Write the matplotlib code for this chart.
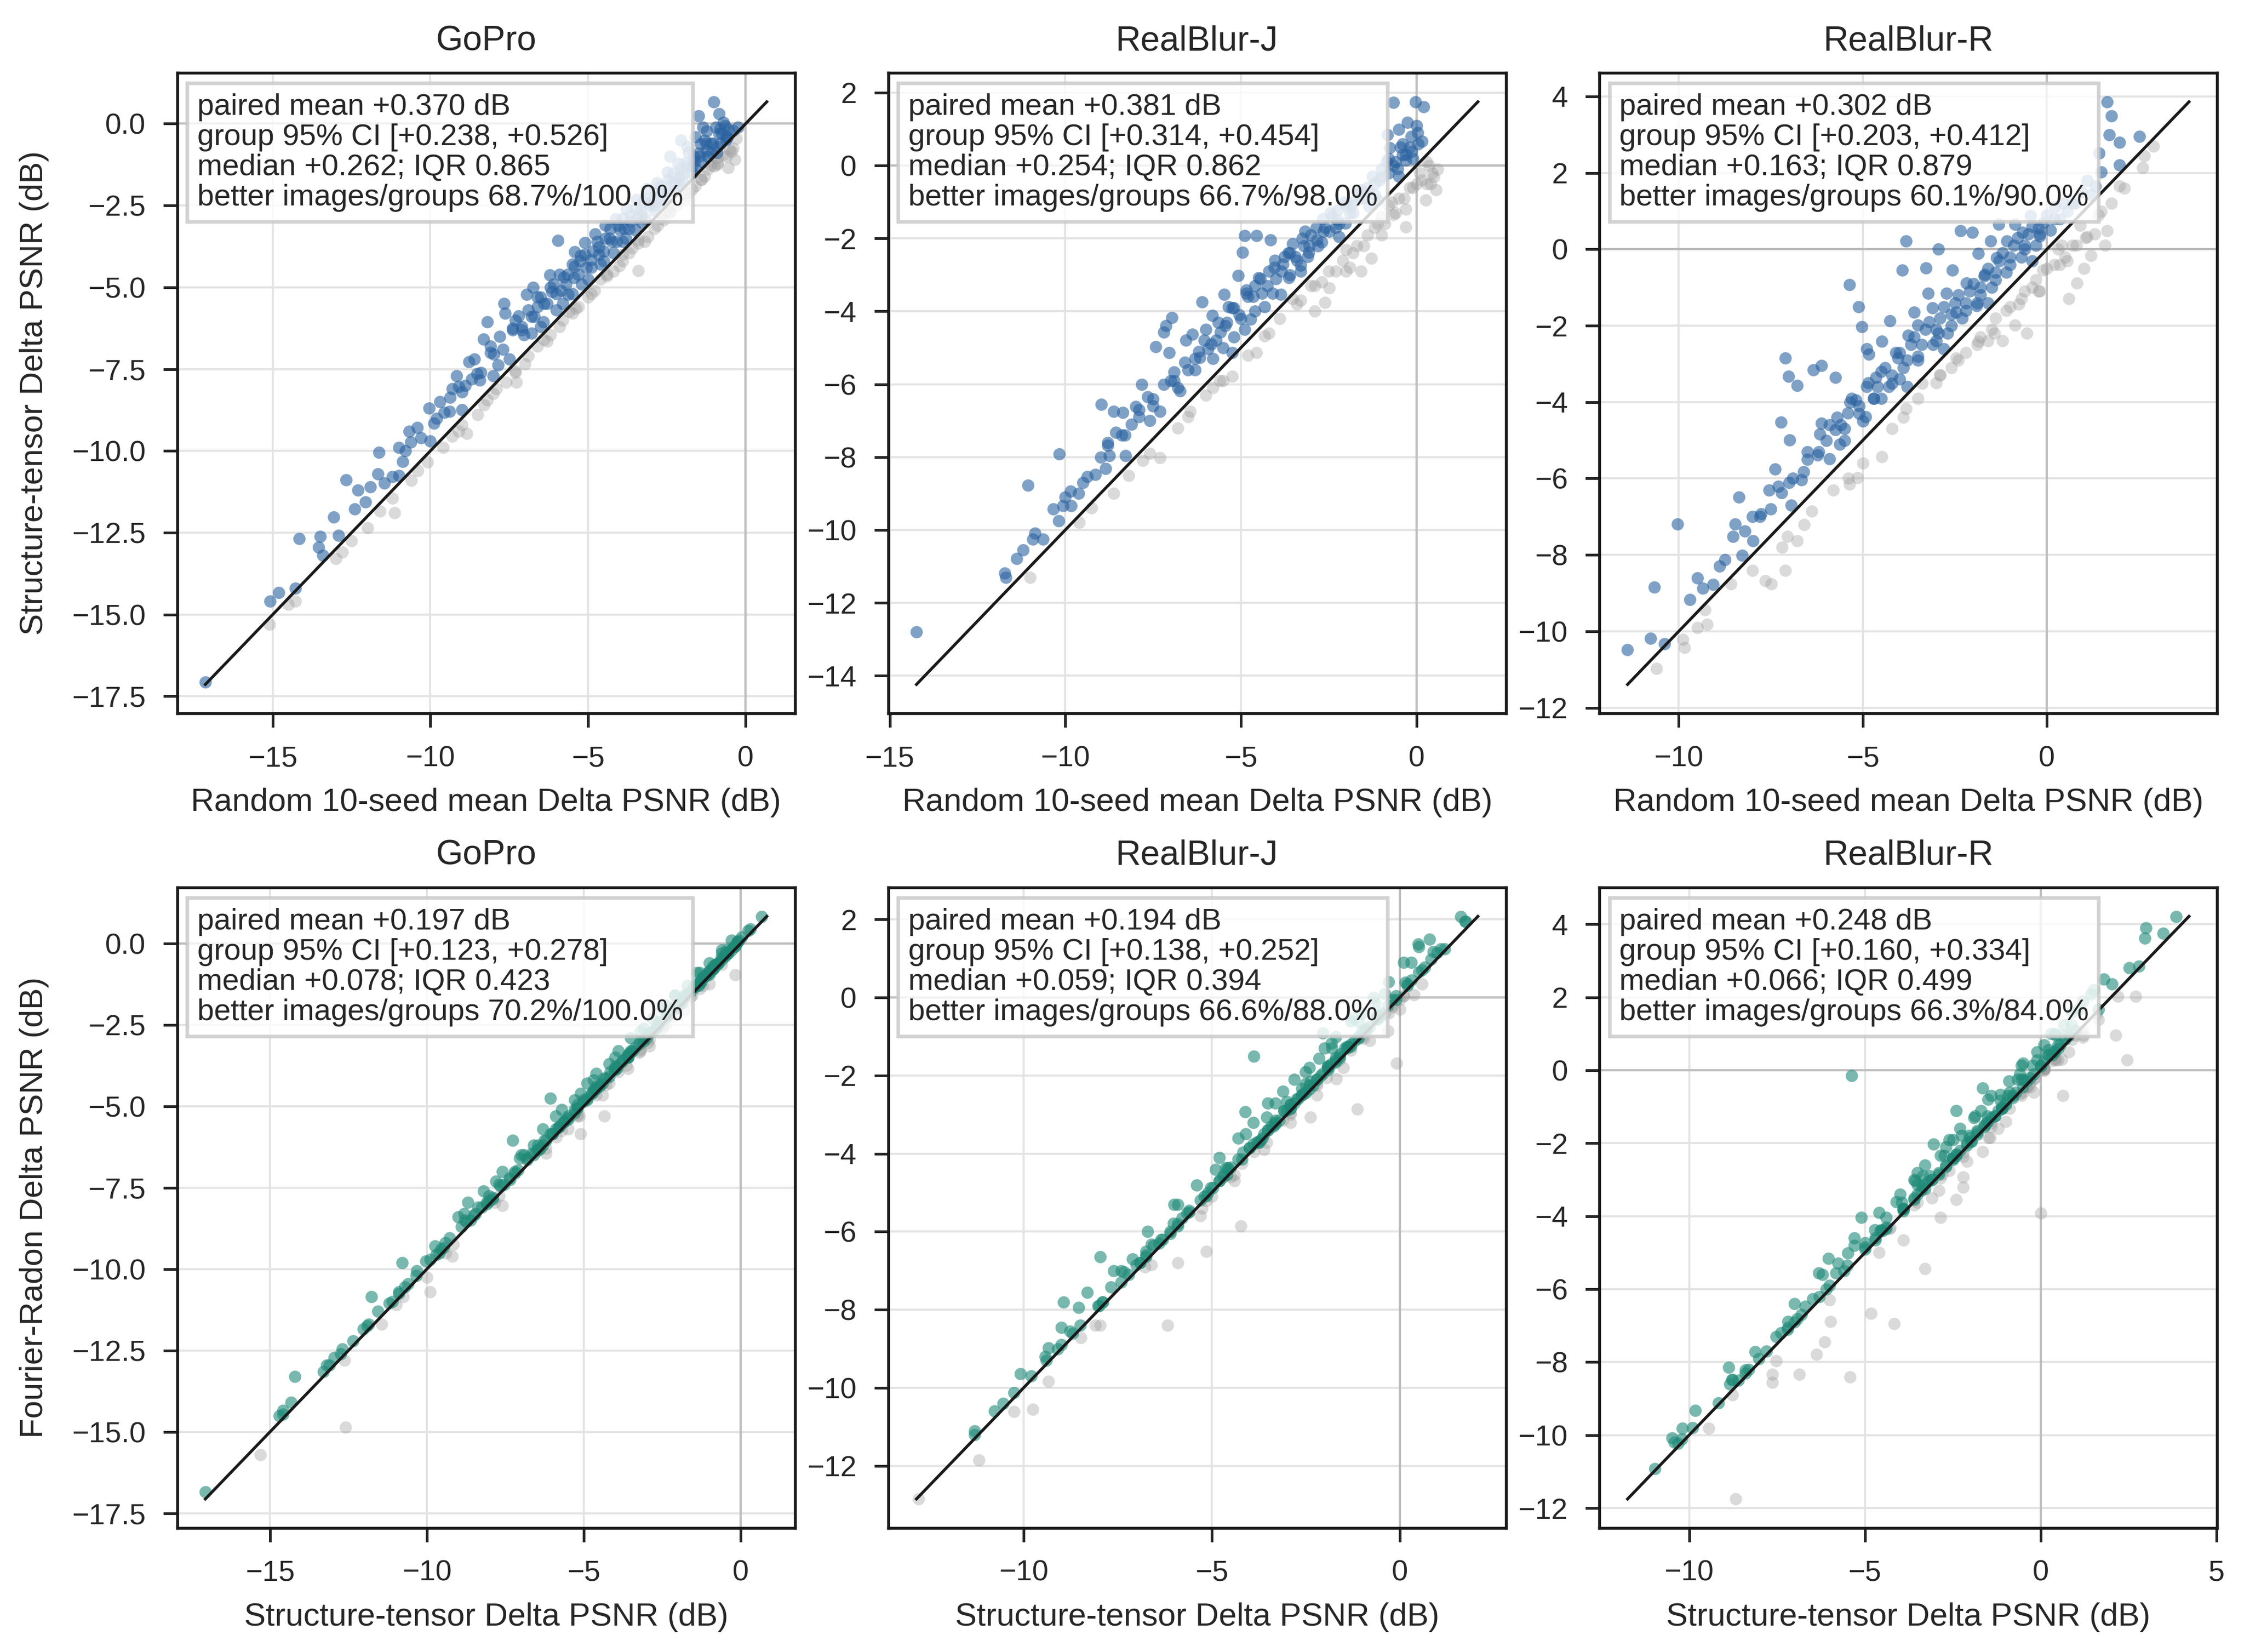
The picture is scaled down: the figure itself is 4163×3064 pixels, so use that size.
import numpy as np
import matplotlib
matplotlib.use("Agg")
import matplotlib.pyplot as plt
from matplotlib.ticker import MaxNLocator

plt.rcParams['font.family'] = ['Liberation Sans', 'DejaVu Sans']
plt.rcParams['text.color'] = '#262626'
plt.rcParams['axes.labelcolor'] = '#262626'
plt.rcParams['xtick.color'] = '#262626'
plt.rcParams['ytick.color'] = '#262626'

# ---------------- data (per image Delta PSNR, dB) ----------------
gopro_random = [-17.14, -15.08, -14.82, -14.29, -14.16, -13.50, -13.54, -13.41, -13.07, -12.91,
                -12.68, -12.41, -12.06, -11.67, -11.63, -11.47, -11.21, -10.88, -10.68, -10.62,
                -10.79, -10.42, -10.05, -9.89, -9.57, -9.37, -9.17, -9.11, -8.78, -8.52,
                -8.43, -8.32, -8.19, -7.99, -7.86, -7.66, -7.64, -7.40, -7.20, -7.03,
                -6.94, -6.75, -6.61, -6.42, -6.22, -6.15, -5.96, -5.76, -5.63, -5.43,
                -5.43, -5.24, -5.10, -4.91, -4.78, -4.65, -4.45, -4.32, -4.12, -3.99,
                -3.79, -3.66, -3.46, -3.33, -3.14, -3.01, -2.81, -2.68, -2.48, -2.35,
                -2.15, -1.99, -1.82, -1.63, -1.50, -1.43, -1.23, -1.23, -1.01, -0.84,
                -0.81, -0.71, -0.58, -0.62, -0.91, -1.10,
                -6.50, -6.00, -5.50, -5.00, -4.60, -4.20, -3.80, -3.50, -3.20, -2.90,
                -2.60, -2.30, -2.00, -1.70, -1.40, -1.10, -0.80, -0.60, -7.50, -8.00,
                -9.00, -10.00, -11.00,
                -14.50, -12.80, -12.00, -11.20, -10.40, -9.60, -9.00, -8.50, -7.90, -7.30,
                -6.90, -6.30, -5.80, -5.30, -4.80, -4.40, -4.00, -3.60, -3.10, -2.70,
                -2.20, -1.80, -1.40, -1.00, -0.70, -0.50, -1.20, -2.50, -3.40, -4.60,
                -5.60, -6.60, -15.10, -8.00, -3.90, -0.90, -3.40, -7.27, -8.85, -11.14,
                -14.29, -0.30, -0.40, -0.25, -0.55,
                -5.20, -4.50, -3.90, -3.30, -2.70, -2.10, -1.60, -1.20, -0.90, -5.80, -6.80,
                -6.8, -6.6, -6.4, -6.2, -6.0, -5.9, -5.7, -5.5, -5.3, -5.1,
                -4.9, -4.7, -4.5, -4.3, -4.1, -3.9, -3.7, -3.5, -3.3, -3.1,
                -2.9, -2.7, -2.5, -2.3, -2.1, -1.9, -1.7, -1.5, -1.3, -1.1,
                -0.95, -0.75, -1.35, -1.6, -1.85, -2.4, -2.05, -0.65,
                -5.5, -5.0, -4.2, -3.7, -3.2, -2.8, -2.4, -1.9, -1.6, -1.3,
                -0.9, -0.6, -0.4, -0.35, -0.55, -6.2, -7.0, -7.6, -8.3, -9.3,
                -10.1, -11.6, -13.0,
                -12.3, -11.9, -11.0, -10.3, -9.7, -9.3, -8.9, -8.6, -8.1, -7.8, -7.3, -7.1,
                -9.8, -9.4, -9.0, -8.7, -8.4, -8.1, -7.7, -7.4, -7.1, -6.9,
                -6.7, -6.5, -6.3, -6.1, -5.85, -5.65, -5.45, -5.25, -5.05, -4.85,
                -4.65, -4.45, -4.25, -4.05, -3.85, -3.65, -3.45, -3.25, -3.05, -2.85,
                -2.65, -2.45, -2.25, -2.05, -1.85, -1.65, -1.45, -1.25, -1.05, -0.85,
                -6.4, -5.9, -5.4, -4.9, -4.4, -3.9, -3.4, -2.9, -2.4, -1.9,
                -1.4, -0.9, -0.45, -7.3, -8.2, -9.1, -10.6, -12.5, -2.6, -1.7]
gopro_st = [-17.06, -14.59, -14.33, -14.20, -12.69, -12.62, -12.95, -13.19, -12.03, -12.59,
            -10.89, -11.77, -11.57, -10.70, -10.04, -10.98, -10.79, -10.33, -9.41, -9.74,
            -10.00, -9.28, -8.69, -9.15, -8.82, -8.36, -7.70, -8.03, -7.27, -7.64,
            -7.83, -6.59, -6.06, -7.05, -7.38, -5.50, -5.80, -6.26, -5.87, -6.46,
            -5.21, -5.01, -5.60, -6.06, -4.62, -5.14, -3.57, -4.69, -5.21, -3.92,
            -4.36, -4.03, -3.64, -4.16, -3.37, -3.77, -3.11, -3.50, -2.91, -3.24,
            -2.59, -2.98, -2.32, -2.65, -1.99, -2.39, -1.80, -2.13, -1.47, -1.80,
            -1.21, -1.54, -0.88, -1.14, 0.24, -0.62, -0.22, -0.81, 0.67, 0.30,
            -0.16, 0.04, -0.42, -0.48, -0.88, -1.27,
            -6.20, -5.70, -5.20, -4.75, -4.30, -3.95, -3.50, -3.25, -2.90, -2.65,
            -2.35, -2.05, -1.75, -1.50, -1.15, -0.90, -0.60, -0.40, -7.20, -7.70,
            -8.75, -9.70, -10.75,
            -14.70, -13.10, -12.35, -11.45, -10.60, -9.90, -9.20, -8.90, -8.10, -7.60,
            -7.10, -6.65, -6.00, -5.60, -5.10, -4.60, -4.35, -3.80, -3.45, -2.90,
            -2.50, -2.10, -1.70, -1.30, -0.95, -0.80, -1.40, -2.65, -3.55, -4.75,
            -5.75, -6.80, -15.30, -8.25, -4.00, -1.05, -4.49, -7.90, -9.47, -11.90,
            -14.59, -0.45, -0.20, -0.10, -0.17,
            -4.90, -4.20, -3.60, -3.00, -2.40, -1.85, -1.35, -1.00, -0.70, -5.50, -6.40,
            -5.9, -5.3, -5.5, -5.0, -5.2, -4.6, -4.9, -4.3, -4.6, -4.0,
            -4.4, -3.6, -3.9, -3.2, -3.6, -2.9, -3.2, -2.6, -2.8, -2.3,
            -2.5, -1.9, -2.1, -1.5, -1.6, -1.2, -1.3, -0.9, -0.5, -0.6,
            -0.1, -0.3, -0.1, -0.4, -0.7, -1.0, -0.5, -0.05,
            -5.8, -5.3, -4.5, -3.95, -3.6, -3.1, -2.7, -2.3, -1.9, -1.6,
            -1.25, -1.0, -0.75, -1.1, -1.35, -6.45, -7.35, -7.9, -8.6, -9.55,
            -10.35, -11.85, -13.3,
            -11.2, -11.1, -9.9, -9.6, -8.5, -8.1, -8.0, -7.2, -6.8, -6.5, -6.0, -6.3,
            -9.0, -8.8, -8.2, -7.8, -7.6, -7.0, -6.9, -6.3, -6.2, -5.7,
            -5.9, -5.3, -5.5, -4.9, -5.1, -4.6, -4.7, -4.2, -4.4, -3.9,
            -4.0, -3.5, -3.6, -3.1, -3.2, -2.8, -2.9, -2.4, -2.5, -2.1,
            -2.1, -1.7, -1.8, -1.4, -1.3, -1.0, -1.0, -0.6, -0.6, -0.3,
            -6.6, -6.2, -5.65, -5.2, -4.65, -4.2, -3.65, -3.2, -2.7, -2.15,
            -1.7, -1.2, -0.85, -7.55, -8.45, -9.4, -10.9, -12.75, -2.95, -2.0]
gopro_fr = [-16.85, -14.35, -14.10, -13.30, -12.45, -12.80, -12.72, -12.95, -11.85, -14.85,
            -10.70, -10.85, -11.30, -10.55, -9.75, -11.10, -9.80, -10.05, -9.20, -9.30,
            -10.25, -9.05, -7.95, -9.25, -8.30, -8.10, -7.40, -7.75, -6.05, -7.45,
            -7.95, -6.20, -5.85, -6.60, -7.20, -5.30, -5.65, -6.05, -5.95, -6.20,
            -4.95, -4.80, -5.45, -4.75, -4.45, -5.30, -3.40, -4.50, -5.05, -3.75,
            -4.15, -3.90, -3.75, -3.95, -3.20, -3.60, -2.95, -3.30, -2.75, -3.35,
            -2.40, -2.80, -2.15, -2.50, -1.85, -2.50, -1.65, -1.95, -1.35, -1.60,
            -1.05, -1.60, -0.70, -1.00, 0.40, -0.45, -0.10, -0.65, 0.83, 0.45,
            -0.05, 0.20, -0.30, -0.35, -0.75, -1.20,
            -6.05, -5.75, -5.05, -4.60, -4.35, -3.80, -3.35, -3.10, -2.95, -2.50,
            -2.20, -1.95, -1.80, -1.35, -1.00, -0.80, -0.50, -0.25, -7.00, -7.75,
            -8.55, -9.55, -10.85,
            -14.50, -12.95, -12.20, -11.70, -10.45, -10.70, -9.60, -8.70, -7.95, -8.05,
            -6.95, -6.45, -5.85, -5.45, -5.85, -4.45, -5.30, -3.65, -3.30, -2.75,
            -2.60, -1.95, -1.55, -1.40, -0.80, -0.65, -1.25, -2.50, -3.40, -4.60,
            -5.60, -6.65, -15.70, -8.10, -3.85, -0.90, -4.35, -7.80, -9.35, -11.75,
            -14.45, -0.20, -0.10, 0.05, -0.96,
            -4.80, -4.10, -3.50, -2.90, -2.30, -1.75, -1.25, -0.90, -0.60, -5.40, -6.30,
            -5.7, -5.1, -5.35, -4.85, -5.25, -4.4, -4.75, -4.15, -4.65, -3.8,
            -4.3, -3.45, -3.95, -3.0, -3.5, -2.75, -3.25, -2.45, -2.7, -2.15,
            -2.55, -1.8, -2.0, -1.35, -1.65, -1.05, -1.2, -0.8, -0.35, -0.65,
            0.05, -0.2, 0.05, -0.3, -0.6, -0.85, -0.4, 0.1,
            -5.65, -5.2, -4.4, -3.85, -3.5, -3.0, -2.6, -2.2, -1.85, -1.5,
            -1.15, -0.95, -0.65, -1.0, -1.3, -6.35, -7.25, -7.85, -8.5, -9.4,
            -10.2, -11.7, -13.15,
            -11.05, -11.0, -9.7, -9.5, -8.35, -8.0, -7.9, -7.05, -6.6, -6.35, -5.85, -6.2,
            -8.4, -8.5, -7.6, -7.3, -7.0, -6.5, -6.5, -5.7, -6.45, -5.1,
            -5.3, -4.8, -5.7, -4.3, -4.6, -4.0, -4.2, -3.7, -4.65, -3.3,
            -3.5, -2.9, -3.85, -2.6, -2.7, -2.3, -3.15, -1.9, -2.0, -1.6,
            -1.6, -1.3, -2.05, -0.9, -0.9, -0.6, -1.25, -0.2, -0.3, 0.1,
            -6.5, -6.3, -5.5, -5.3, -4.5, -4.3, -3.5, -3.3, -2.6, -2.25,
            -1.6, -1.3, -0.75, -7.4, -8.3, -9.5, -10.75, -12.6, -3.05, -1.9]

realblurj_random = [-14.24, -11.72, -11.69, -11.38, -11.20, -11.07, -10.92, -10.86, -10.63, -10.34,
                    -10.17, -10.19, -10.06, -9.83, -9.62, -9.85, -9.37, -9.14, -8.97, -8.85,
                    -8.80, -8.74, -8.62, -8.57, -8.36, -8.28, -8.11, -8.00, -7.82, -7.65,
                    -7.42, -7.31, -7.19, -7.13, -6.96, -7.05, -6.90, -6.73, -6.56, -6.39,
                    -6.16, -6.10, -5.93, -5.81, -5.58, -5.47, -5.36, -5.24, -5.07, -4.95,
                    -4.90, -4.84, -4.72, -4.55, -4.50, -4.32, -4.15, -4.04, -3.86, -3.75,
                    -3.64, -3.52, -3.29, -3.18, -3.06, -2.83, -2.66, -2.49, -2.26, -2.03,
                    -1.80, -1.57, -1.34, -1.00, -0.65, -0.83, -0.77, -0.25, -0.02, 0.21,
                    0.03, 0.15, -0.31, -0.54, -0.14,
                    -7.31, -8.62, -9.25, -6.44, -5.24, -2.49, -2.89, -1.57, -1.28, 0.49,
                    0.55, 0.26, -0.31, -0.65, -2.60, -3.52, -4.32, -4.55, -6.00, -3.00,
                    -2.00, -1.00, 0.00, 0.30, -11.00, -7.80, -5.60,
                    -5.80, -5.20, -4.60, -4.10, -3.60, -3.10, -2.70, -2.30, -1.90, -1.50,
                    -1.20, -0.80, -0.40, -6.30, -6.80, -7.60, -3.30, -2.20, -1.10, -0.50,
                    -4.90, -5.50,
                    -6.5, -6.2, -6.0, -5.7, -5.4, -5.2, -5.0, -4.8, -4.6, -4.4,
                    -4.2, -4.0, -3.8, -3.6, -3.4, -3.2, -3.0, -2.8, -2.6, -2.4,
                    -2.2, -2.0, -1.8, -1.6, -1.4, -1.2, -1.0, -0.8, -0.6, -0.4,
                    -0.2, 0.0, -0.5, -0.1, -7.0, -7.5, -7.9, -8.4, -9.0, -9.5, -10.0,
                    -3.9, -3.4, -2.9, -2.5, -2.1, -1.7, -1.4, -1.1, -0.8, -0.5,
                    -0.2, 0.1, 0.35, -0.3, 0.4, -1.9, -4.8, -5.8, -6.8, -7.6, -8.2, -9.6,
                    -8.8, -8.3, -7.9, -7.5, -7.2, -6.9, -6.6, -6.3, -6.05, -5.85,
                    -5.65, -5.45, -5.25, -5.05, -4.85, -4.65, -4.45, -4.25, -4.05, -3.85,
                    -3.65, -3.45, -3.25, -3.05, -2.85, -2.65, -2.45, -2.25, -2.05, -1.85,
                    -1.65, -1.45, -1.25, -1.05, -0.85, -0.65, -0.45, -0.3, -0.15, 0.05,
                    -3.3, -2.7, -2.3, -1.8, -1.5, -1.2, -0.9, -0.6, -0.35, -0.1,
                    0.15, 0.3, 0.45, 0.6, -2.0, -1.0, -0.7, -4.2, -5.5, -6.5]
realblurj_st = [-12.80, -11.19, -11.30, -10.78, -10.55, -8.77, -10.26, -10.09, -10.26, -9.42,
                -7.91, -9.75, -9.34, -9.34, -9.00, -8.94, -8.54, -8.48, -6.55, -8.31,
                -7.68, -7.96, -6.75, -7.33, -6.78, -7.96, -7.10, -6.61, -6.01, -6.35,
                -4.97, -6.75, -4.57, -4.40, -4.17, -5.14, -5.66, -6.18, -4.80, -4.63,
                -5.26, -3.74, -5.03, -4.11, -4.57, -3.53, -3.88, -5.14, -3.01, -2.38,
                -1.92, -3.42, -4.22, -1.92, -3.07, -3.88, -2.04, -2.61, -3.53, -2.50,
                -3.07, -2.15, -2.73, -1.81, -2.38, -2.04, -1.46, -1.81, -1.23, -1.58,
                -1.00, -0.66, -1.12, -0.31, 1.74, 0.84, 0.49, 1.19, 1.75, 1.62,
                0.90, 0.67, 0.15, -0.08, 0.38,
                -8.02, -9.00, -9.40, -6.75, -5.78, -3.36, -3.99, -2.90, -2.55, -0.31,
                -0.66, -0.94, -1.69, -1.35, -3.76, -3.65, -4.68, -5.14, -6.30, -3.30,
                -2.30, -1.40, -0.50, 0.10, -11.30, -8.10, -5.90,
                -5.30, -4.70, -4.00, -3.50, -3.00, -2.50, -2.10, -1.70, -1.30, -0.90,
                -0.50, -0.20, 0.30, -5.60, -6.10, -7.00, -2.90, -1.95, -0.95, -0.30,
                -4.50, -5.00,
                -5.6, -5.1, -4.5, -4.8, -4.3, -3.9, -4.2, -3.6, -3.3, -3.5,
                -2.9, -3.1, -2.7, -2.4, -2.6, -2.2, -1.9, -2.2, -1.7, -1.4,
                -1.6, -1.1, -1.3, -0.9, -0.6, -0.8, -0.1, 0.2, 0.1, 0.6,
                0.5, 1.1, 1.0, 0.2, -5.9, -6.4, -6.9, -7.4, -8.0, -8.7, -9.1,
                -4.2, -3.8, -3.3, -2.9, -2.6, -2.2, -1.9, -1.6, -1.1, -0.9,
                -0.6, -0.2, 0.0, -1.2, -0.5, -2.8, -5.2, -6.1, -7.2, -7.9, -8.5, -9.8,
                -7.6, -7.4, -6.7, -6.6, -6.0, -5.9, -5.4, -5.3, -4.8, -4.9,
                -4.3, -4.4, -3.9, -4.1, -3.5, -3.6, -3.1, -3.3, -2.8, -2.9,
                -2.4, -2.5, -2.0, -2.2, -1.7, -1.8, -1.3, -1.5, -1.0, -1.1,
                -0.7, -0.8, -0.3, -0.4, 0.1, 0.0, 0.5, 0.3, 0.8, 0.6,
                -3.7, -3.2, -2.9, -2.4, -2.2, -1.7, -1.6, -1.3, -0.9, -0.6,
                -0.4, -0.5, -0.2, -0.1, -2.9, -1.9, -1.0, -4.6, -5.9, -6.9]
realblurj_fr = [-12.85, -11.85, -11.20, -10.60, -10.40, -8.55, -10.13, -9.64, -10.61, -9.20,
                -7.81, -10.55, -8.98, -9.83, -8.46, -7.81, -7.94, -8.72, -6.35, -7.55,
                -7.42, -8.40, -6.64, -7.03, -6.90, -6.64, -6.70, -6.32, -5.79, -6.20,
                -4.88, -6.50, -4.36, -4.55, -3.97, -5.21, -5.53, -8.40, -4.70, -4.36,
                -5.40, -3.71, -4.88, -2.93, -4.40, -3.06, -3.95, -6.51, -2.67, -2.15,
                -1.76, -3.30, -5.86, -1.80, -2.90, -1.50, -1.95, -2.34, -3.71, -2.21,
                -2.90, -1.56, -2.60, -1.17, -3.06, -0.91, -1.30, -1.70, -0.52, -1.45,
                -0.85, -0.13, -2.86, -0.20, 1.95, 0.98, 1.37, 1.24, 1.95, 2.08,
                1.17, 0.78, 0.39, -1.69, 0.07,
                -7.90, -8.90, -9.30, -6.60, -5.65, -3.30, -3.85, -2.75, -2.45, -0.85,
                -0.55, -0.85, -2.08, -1.25, -3.71, -3.60, -4.55, -5.08, -6.20, -3.20,
                -2.25, -1.30, -0.45, 0.05, -11.10, -8.40, -6.80,
                -5.20, -4.60, -3.85, -3.40, -2.90, -2.45, -2.00, -1.55, -1.20, -0.80,
                -0.40, -0.05, 0.45, -5.50, -6.00, -6.85, -3.00, -2.05, -1.05, -0.40,
                -4.60, -5.10,
                -5.45, -5.0, -4.35, -4.7, -4.15, -3.75, -4.25, -3.5, -3.15, -3.4,
                -2.75, -3.15, -2.6, -2.25, -2.5, -2.1, -1.75, -2.25, -1.6, -1.25,
                -1.5, -1.0, -1.35, -0.8, -0.45, -0.75, 0.05, 0.35, 0.05, 0.7,
                0.65, 1.25, 1.15, 0.3, -5.8, -6.3, -6.8, -7.3, -7.9, -8.6, -9.0,
                -4.15, -3.7, -3.25, -2.85, -2.5, -2.1, -1.8, -1.55, -1.05, -0.85,
                -0.55, -0.25, -0.05, -1.1, -0.5, -2.7, -5.1, -6.05, -7.1, -7.8, -8.4, -9.7,
                -7.0, -7.0, -6.0, -6.85, -5.3, -5.3, -4.8, -5.6, -4.1, -4.4,
                -3.6, -4.7, -3.2, -3.5, -2.7, -3.9, -2.4, -2.7, -2.1, -3.2,
                -1.8, -1.9, -1.3, -2.5, -1.0, -1.3, -0.6, -1.8, -0.4, -0.6,
                0.0, -1.1, 0.4, 0.1, 0.9, -0.3, 1.3, 0.9, 1.5, 0.35,
                -3.65, -3.15, -2.95, -2.35, -2.2, -1.65, -1.6, -1.25, -0.9, -0.55,
                -0.4, -0.45, -0.2, -0.05, -2.85, -1.85, -1.0, -4.55, -5.85, -6.8]

realblurr_random = [-11.39, -10.77, -10.66, -10.38, -10.03, -9.70, -9.34, -9.07, -8.74, -8.52,
                    -8.47, -8.36, -8.20, -8.28, -7.98, -7.76, -7.54, -7.38, -7.23, -7.21,
                    -7.10, -7.02, -6.94, -6.99, -6.78, -6.67, -6.61, -6.34, -6.23, -6.12,
                    -6.12, -6.17, -5.90, -5.74, -5.74, -5.63, -5.41, -5.36, -5.19, -5.11,
                    -5.03, -4.92, -4.83, -4.70, -4.64, -4.48, -4.26, -4.21, -4.04, -3.93,
                    -3.83, -3.77, -3.61, -3.50, -3.28, -3.22, -3.11, -2.95, -2.95, -2.73,
                    -2.57, -2.46, -2.35, -2.19, -2.02, -1.91, -1.86, -1.69, -1.53, -1.37,
                    -1.31, -1.09, -0.87, -0.66, -0.44, -0.22, 0.22, 0.55, 1.42, 1.48,
                    1.64, 1.75, 1.97, 1.97, 2.51, 1.20, 1.31, 0.77, 1.70,
                    -10.60, -9.84, -9.89, -9.29, -9.23, -8.58, -7.65, -7.49, -7.10, -7.05,
                    -6.78, -6.39, -5.36, -5.14, -4.48, -3.83, -3.39, -2.90, -2.46, -1.86,
                    -1.42, -0.87, -0.55, -0.77, -0.22, -0.11, 0.82, 1.20, 1.58, 1.09,
                    1.64, 1.97, 1.48, 0.30, 2.60, 2.90, 2.65, 0.90,
                    -4.50, -4.00, -3.50, -3.00, -2.60, -2.20, -1.80, -1.40, -1.00, -0.60,
                    -0.20, -5.00, -5.50, -2.80, -1.60, -0.40, -3.80, 0.40,
                    -6.0, -5.7, -5.5, -5.3, -5.1, -4.9, -4.7, -4.5, -4.3, -4.1,
                    -3.9, -3.7, -3.5, -3.3, -3.1, -2.9, -2.7, -2.5, -2.3, -2.1,
                    -1.9, -1.7, -1.5, -1.3, -1.1, -0.9, -0.7, -0.5, -0.3, -0.1,
                    0.1, 0.35, -6.5, -7.0, -7.5, -8.0, -8.9, -9.5,
                    -3.5, -3.0, -2.6, -2.2, -1.8, -1.4, -1.0, -0.6, -0.3, 0.2,
                    0.5, 0.8, 1.0, 1.3, 0.6, -1.2, -4.2, -5.0, -5.8, -6.6, -8.0, -9.5,
                    -7.8, -7.3, -6.9, -6.5, -6.2, -5.9, -5.6, -5.35, -5.1, -4.85,
                    -4.6, -4.4, -4.2, -4.0, -3.8, -3.6, -3.4, -3.2, -3.0, -2.8,
                    -2.6, -2.4, -2.2, -2.0, -1.8, -1.6, -1.4, -1.2, -1.0, -0.8,
                    -0.6, -0.4, -0.2, 0.0, 0.2, 0.45, 0.7, 0.95, 1.1, -4.9,
                    -2.9, -2.4, -1.9, -1.5, -1.1, -0.7, -0.4, 0.0, 0.35, 0.7,
                    1.05, 1.4, 1.75, 2.1, -0.2, 0.55, -1.6, -3.9, -5.4, -7.2]
realblurr_st = [-10.48, -10.19, -8.84, -10.32, -7.19, -9.17, -8.87, -8.78, -8.12, -7.52,
                -7.19, -6.48, -7.38, -8.01, -7.63, -6.92, -6.31, -5.76, -4.53, -6.37,
                -2.85, -3.32, -6.70, -4.99, -3.57, -6.04, -5.82, -3.16, -5.38, -3.05,
                -4.56, -4.83, -5.49, -3.35, -4.72, -5.10, -4.28, -0.93, -3.95, -1.51,
                -2.03, -4.39, -2.74, -3.90, -3.35, -2.41, -1.87, -3.51, -2.85, -0.55,
                0.22, -2.25, -1.65, -1.98, -0.49, -1.15, -1.54, 0.00, -2.20, -1.15,
                -0.55, -1.65, 0.49, -0.88, 0.44, -1.48, -0.11, -0.66, 0.22, -0.22,
                0.66, 0.22, 0.66, 0.44, 0.88, 0.55, 1.10, 0.99, 2.52, 2.03,
                3.86, 3.49, 2.80, 2.20, 2.96, 1.43, 1.65, 1.21, 3.00,
                -10.98, -10.43, -10.21, -9.44, -9.82, -8.76, -8.67, -8.76, -8.40, -7.52,
                -7.63, -6.86, -6.15, -5.98, -5.43, -4.17, -3.51, -3.29, -2.85, -2.41,
                -2.20, -1.98, -2.20, -1.43, -1.10, -0.55, -0.88, -0.16, 0.11, 0.33,
                0.49, 1.65, 0.99, 0.00, 2.13, 2.70, 2.45, 0.63,
                -3.90, -3.40, -2.90, -2.40, -2.00, -1.60, -1.20, -0.80, -0.40, 0.00,
                0.35, -4.50, -5.00, -2.60, -1.40, -0.30, -3.60, 0.10,
                -5.0, -4.4, -4.7, -3.9, -4.3, -3.6, -3.9, -3.2, -3.6, -2.7,
                -3.1, -2.5, -2.8, -2.1, -2.5, -1.8, -2.2, -1.4, -1.8, -1.1,
                -1.4, -0.7, -1.0, -0.3, -0.6, 0.1, -0.2, 0.4, 0.1, 0.7,
                0.5, 0.8, -5.5, -6.1, -6.8, -7.0, -8.3, -8.6,
                -3.9, -3.5, -3.1, -2.7, -2.3, -1.8, -1.5, -1.1, -0.8, -0.4,
                -0.2, 0.1, -0.5, 0.4, -1.3, -2.4, -4.7, -5.6, -6.3, -7.2, -8.4, -9.9,
                -7.0, -6.2, -6.0, -5.3, -5.3, -4.6, -4.6, -4.0, -4.1, -3.5,
                -3.6, -3.1, -3.3, -2.7, -2.9, -2.3, -2.5, -1.9, -2.1, -1.5,
                -1.7, -1.2, -1.4, -0.9, -1.0, -0.5, -0.6, -0.1, -0.2, 0.3,
                0.1, 0.6, 0.4, 0.9, 0.8, 1.2, 1.2, 1.5, 1.8, -2.6,
                -3.3, -2.9, -2.5, -2.1, -1.6, -1.3, -1.0, -0.5, -0.4, 0.1,
                0.3, 0.9, 1.2, 1.6, -1.1, -0.3, -2.4, -4.4, -6.0, -7.8]
realblurr_fr = [-10.08, -9.81, -8.60, -10.22, -7.05, -9.11, -8.14, -8.48, -7.72, -7.30,
                -6.88, -6.26, -7.20, -7.90, -8.34, -6.81, -5.56, -5.29, -4.38, -7.79,
                -2.34, -3.13, -6.47, -4.73, -3.03, -5.15, -5.56, -2.89, -0.14, -2.03,
                -4.40, -6.67, -5.01, -3.20, -4.38, -4.03, -4.31, -0.70, -3.62, -1.25,
                -1.78, -4.03, -2.34, -4.66, -2.89, -1.11, -1.25, -3.13, -2.95, -0.25,
                0.42, -1.78, -0.49, -1.95, -0.25, -0.83, -1.45, 0.14, -3.20, -0.67,
                0.14, -2.23, 0.70, -0.60, 0.97, -1.85, 0.28, -0.25, 0.56, 0.14,
                1.25, 0.42, 0.97, 0.28, 1.25, 0.70, 1.67, 1.10, 2.81, 2.36,
                4.22, 3.76, 2.85, 2.02, 3.62, 2.09, 1.67, 0.97, 3.90,
                -10.92, -10.20, -10.10, -9.81, -9.32, -8.48, -11.75, -8.90, -8.21, -7.97,
                -8.55, -8.34, -7.44, -6.88, -8.41, -6.95, -3.62, -5.43, -4.03, -3.55,
                -2.36, -1.95, -2.92, -1.85, -1.04, -0.70, -1.04, -0.20, 0.05, 0.42,
                0.28, 1.39, 0.97, -3.92, 0.97, 2.02, 0.28, -0.70,
                -3.80, -3.30, -2.80, -2.30, -1.85, -1.50, -1.10, -0.70, -0.30, 0.10,
                0.50, -4.40, -4.85, -2.75, -1.55, -0.45, -3.70, 0.00,
                -4.9, -4.3, -4.65, -3.8, -4.35, -3.5, -3.8, -3.05, -3.55, -2.6,
                -3.0, -2.4, -2.85, -2.0, -2.4, -1.65, -2.25, -1.3, -1.7, -1.0,
                -1.45, -0.6, -0.9, -0.2, -0.65, 0.25, -0.1, 0.5, 0.05, 0.85,
                0.6, 0.95, -5.35, -6.0, -6.7, -6.9, -8.2, -8.5,
                -3.85, -3.4, -3.0, -2.65, -2.2, -1.75, -1.4, -1.05, -0.75, -0.45,
                -0.25, 0.0, -0.6, 0.3, -1.25, -2.3, -4.6, -5.5, -6.2, -7.1, -8.3, -9.8,
                -6.4, -5.6, -6.3, -4.6, -4.8, -3.9, -5.0, -3.4, -3.6, -2.8,
                -3.0, -3.5, -2.6, -2.1, -3.3, -1.6, -1.9, -1.3, -2.5, -0.8,
                -1.1, -1.6, -0.7, -0.3, -1.4, 0.2, -0.1, 0.5, -0.6, 1.0,
                0.7, 0.3, 1.0, 1.6, 0.5, 1.9, 0.9, 2.2, 2.5, -1.9,
                -3.25, -2.85, -2.45, -2.05, -1.55, -1.25, -0.95, -0.45, -0.45, 0.05,
                0.25, 0.85, 1.1, 1.55, -1.05, -0.35, -2.35, -4.35, -5.9, -7.7]

datasets = ["GoPro", "RealBlur-J", "RealBlur-R"]
random_vals = [gopro_random, realblurj_random, realblurr_random]
st_vals = [gopro_st, realblurj_st, realblurr_st]
fr_vals = [gopro_fr, realblurj_fr, realblurr_fr]

stats_top = [
    "paired mean +0.370 dB\ngroup 95% CI [+0.238, +0.526]\nmedian +0.262; IQR 0.865\nbetter images/groups 68.7%/100.0%",
    "paired mean +0.381 dB\ngroup 95% CI [+0.314, +0.454]\nmedian +0.254; IQR 0.862\nbetter images/groups 66.7%/98.0%",
    "paired mean +0.302 dB\ngroup 95% CI [+0.203, +0.412]\nmedian +0.163; IQR 0.879\nbetter images/groups 60.1%/90.0%",
]
stats_bottom = [
    "paired mean +0.197 dB\ngroup 95% CI [+0.123, +0.278]\nmedian +0.078; IQR 0.423\nbetter images/groups 70.2%/100.0%",
    "paired mean +0.194 dB\ngroup 95% CI [+0.138, +0.252]\nmedian +0.059; IQR 0.394\nbetter images/groups 66.6%/88.0%",
    "paired mean +0.248 dB\ngroup 95% CI [+0.160, +0.334]\nmedian +0.066; IQR 0.499\nbetter images/groups 66.3%/84.0%",
]
row_xlabels = ["Random 10-seed mean Delta PSNR (dB)", "Structure-tensor Delta PSNR (dB)"]
row_ylabels = ["Structure-tensor Delta PSNR (dB)", "Fourier-Radon Delta PSNR (dB)"]
row_colors = ["#2a62a0", "#1f8a78"]
GRAY = "#9a9a9a"

fig, axes = plt.subplots(2, 3, figsize=(4163 / 300, 3064 / 300), dpi=300)
fig.subplots_adjust(left=0.079, right=0.988, bottom=0.075, top=0.956,
                    wspace=0.1515, hspace=0.271)


def draw(ax, x, y, color, stat, title, xlabel, ylabel):
    x = np.asarray(x, float)
    y = np.asarray(y, float)
    lo = min(x.min(), y.min())
    hi = max(x.max(), y.max())
    pad = 0.05 * (hi - lo)
    ax.set_axisbelow(True)
    ax.grid(True, color="#e3e3e3", lw=0.9, zorder=0)
    ax.axhline(0, color="#bdbdbd", lw=1.0, zorder=1)
    ax.axvline(0, color="#bdbdbd", lw=1.0, zorder=1)
    better = y > x
    ax.scatter(x[~better], y[~better], s=30, color=GRAY, alpha=0.36,
               linewidths=0, zorder=2)
    ax.scatter(x[better], y[better], s=30, color=color, alpha=0.6,
               linewidths=0, zorder=3)
    ax.plot([lo, hi], [lo, hi], color="#1a1a1a", lw=1.3, zorder=4)
    ax.set_xlim(lo - pad, hi + pad)
    ax.set_ylim(lo - pad, hi + pad)
    ax.xaxis.set_major_locator(MaxNLocator(nbins=5, steps=[1, 2, 2.5, 5, 10]))
    ax.yaxis.set_major_locator(MaxNLocator(nbins=9, steps=[1, 2, 2.5, 5, 10]))
    ax.tick_params(direction="out", length=6.3, width=1.2, labelsize=13, pad=7.8)
    for sp in ax.spines.values():
        sp.set_linewidth(1.3)
        sp.set_color("#1a1a1a")
    ax.set_title(title, fontsize=15.5, pad=10)
    ax.set_xlabel(xlabel, fontsize=14.4, labelpad=7)
    if ylabel:
        ax.set_ylabel(ylabel, fontsize=14.4, labelpad=10)
    ax.text(0.032, 0.968, stat, transform=ax.transAxes, ha="left", va="top",
            fontsize=13.4, linespacing=1.1, zorder=6,
            bbox=dict(boxstyle="square,pad=0.33", facecolor="white", alpha=0.82,
                      edgecolor="#c8c8c8", linewidth=1.6))


for j in range(3):
    draw(axes[0, j], random_vals[j], st_vals[j], row_colors[0], stats_top[j],
         datasets[j], row_xlabels[0], row_ylabels[0] if j == 0 else None)
    draw(axes[1, j], st_vals[j], fr_vals[j], row_colors[1], stats_bottom[j],
         datasets[j], row_xlabels[1], row_ylabels[1] if j == 0 else None)

fig.savefig("out.png", dpi=300)
